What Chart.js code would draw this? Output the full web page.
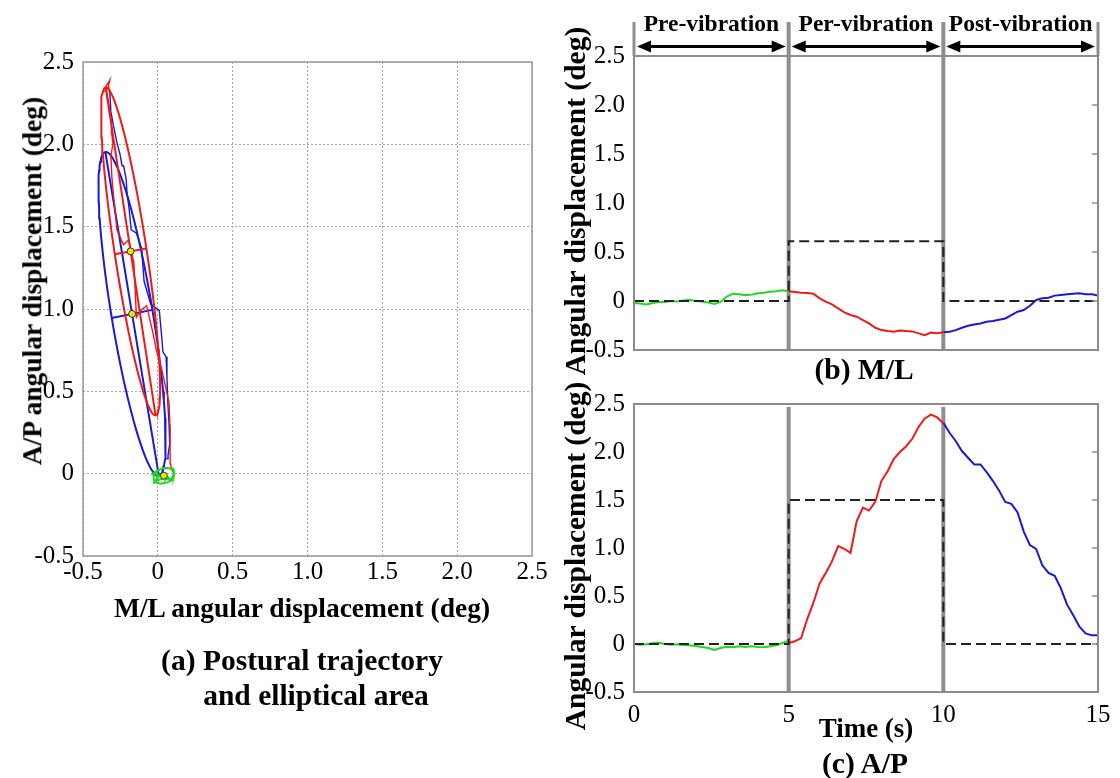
<!DOCTYPE html>
<html>
<head>
<meta charset="utf-8">
<title>Postural sway under vibration</title>
<script src="https://cdn.jsdelivr.net/npm/chart.js@4.4.1/dist/chart.umd.min.js"></script>
<style>
  html, body { margin: 0; padding: 0; background: #fff; }
  #fig { position: relative; width: 1120px; height: 778px; overflow: hidden; background: #fff; }
  canvas { position: absolute; }
  #cA { left: 0; top: 0; width: 560px; height: 778px; }
  #cB { left: 560px; top: 0; width: 560px; height: 380px; }
  #cC { left: 560px; top: 380px; width: 560px; height: 398px; }
  .lbl {
    position: absolute; white-space: nowrap; line-height: 1; color: #000;
    font-family: 'Liberation Serif', 'Times New Roman', serif; font-weight: bold;
    transform: translate(-50%, -50%);
  }
  .rot { transform: translate(-50%, -50%) rotate(-90deg); }
</style>
</head>
<body>
<div id="fig">
  <canvas id="cA" width="560" height="778"></canvas>
  <canvas id="cB" width="560" height="380"></canvas>
  <canvas id="cC" width="560" height="398"></canvas>

  <div class="lbl" style="left:302px; top:608px; font-size:27.5px;">M/L angular displacement (deg)</div>
  <div class="lbl rot" style="left:32px; top:281px; font-size:27.5px;">A/P angular displacement (deg)</div>
  <div class="lbl" style="left:302px; top:661px; font-size:29.5px;">(a) Postural trajectory</div>
  <div class="lbl" style="left:316px; top:696px; font-size:29.5px;">and elliptical area</div>

  <div class="lbl rot" style="left:576px; top:201px; font-size:29.5px;">Angular displacement (deg)</div>
  <div class="lbl" style="left:864px; top:370px; font-size:29.5px;">(b) M/L</div>

  <div class="lbl rot" style="left:576px; top:556px; font-size:29.5px;">Angular displacement (deg)</div>
  <div class="lbl" style="left:866px; top:728px; font-size:27px;">Time (s)</div>
  <div class="lbl" style="left:865px; top:764px; font-size:29.5px;">(c) A/P</div>
</div>

<script>
// ---- sample times (s) of each phase ----
const timePre  = [0.0, 0.2, 0.4, 0.6, 0.8, 1.0, 1.2, 1.4, 1.6, 1.8, 2.0, 2.2, 2.4, 2.6, 2.8, 3.0, 3.2, 3.4, 3.6, 3.8, 4.0, 4.2, 4.4, 4.6, 4.8, 5.0];
const timePer  = [5.0, 5.2, 5.4, 5.6, 5.8, 6.0, 6.2, 6.4, 6.6, 6.8, 7.0, 7.2, 7.4, 7.6, 7.8, 8.0, 8.2, 8.4, 8.6, 8.8, 9.0, 9.2, 9.4, 9.6, 9.8, 10.0];
const timePost = [10.0, 10.2, 10.4, 10.6, 10.8, 11.0, 11.2, 11.4, 11.6, 11.8, 12.0, 12.2, 12.4, 12.6, 12.8, 13.0, 13.2, 13.4, 13.6, 13.8, 14.0, 14.2, 14.4, 14.6, 14.8, 15.0];

// ---- medio-lateral angular displacement (deg) ----
const mlPre  = [-0.02, -0.025, -0.035, -0.02, -0.01, -0.01, 0.0, -0.005, 0.005, 0.01, 0.0, -0.005, -0.015, -0.03, -0.01, 0.045, 0.075, 0.07, 0.06, 0.065, 0.08, 0.085, 0.095, 0.1, 0.11, 0.1];
const mlPer  = [0.1, 0.092, 0.085, 0.082, 0.075, 0.027, -0.007, -0.034, -0.075, -0.116, -0.143, -0.16, -0.195, -0.229, -0.273, -0.297, -0.307, -0.314, -0.3, -0.307, -0.31, -0.33, -0.348, -0.321, -0.33, -0.32];
const mlPost = [-0.32, -0.314, -0.297, -0.273, -0.253, -0.239, -0.229, -0.212, -0.205, -0.191, -0.178, -0.143, -0.109, -0.092, -0.048, 0.01, 0.027, 0.034, 0.055, 0.061, 0.068, 0.075, 0.079, 0.068, 0.068, 0.055];

// ---- antero-posterior angular displacement (deg) ----
const apPre  = [0.0, -0.007, -0.003, 0.007, 0.014, 0.0, -0.007, -0.003, -0.01, -0.014, -0.021, -0.031, -0.041, -0.062, -0.041, -0.028, -0.034, -0.024, -0.031, -0.024, -0.031, -0.034, -0.024, -0.014, 0.01, 0.035];
const apPer  = [0.01, 0.028, 0.06, 0.26, 0.43, 0.63, 0.74, 0.86, 1.02, 0.99, 0.95, 1.28, 1.42, 1.39, 1.48, 1.70, 1.80, 1.93, 2.0, 2.06, 2.14, 2.26, 2.35, 2.39, 2.36, 2.3];
const apPost = [2.305, 2.2, 2.115, 2.01, 1.94, 1.87, 1.87, 1.79, 1.7, 1.6, 1.48, 1.46, 1.37, 1.17, 1.03, 0.99, 0.82, 0.74, 0.71, 0.58, 0.41, 0.3, 0.18, 0.11, 0.09, 0.09];

// ---- phases and their reference levels (deg) ----
const phaseBounds = [0, 5, 10, 15];
const phaseLabels = ['Pre-vibration', 'Per-vibration', 'Post-vibration'];
const mlRefLevels = [0, 0.61, 0];
const apRefLevels = [0, 1.5, 0];

// ---- 95% sway ellipses (pre, per, post) ----
const ellipseCentreML = [0.04, -0.182, -0.172];
const ellipseCentreAP = [-0.012, 1.35, 0.97];
const ellipseSemiMajor = [0.07, 1.01, 1.0];
const ellipseSemiMinor = [0.045, 0.107, 0.138];
const ellipseTiltDeg   = [15, 99.5, 100.3];

// ---- tick labels ----
const angleTickLabels = ['-0.5', '0', '0.5', '1.0', '1.5', '2.0', '2.5'];
const timeTickLabels  = ['0', '5', '10', '15'];

// ---- styling ----
const SERIF = "'Liberation Serif', 'Times New Roman', serif";
const TICK_FONT = { family: SERIF, size: 25 };
const phaseColors = ['#1fd81f', '#ee1a1a', '#1a1ad6'];
const frameGrey = '#8c8c8c';
Chart.defaults.font.family = SERIF;
Chart.defaults.color = '#000';

const zip = (xs, ys) => xs.map((x, i) => ({ x: x, y: ys[i] }));

function stepLine(levels) {
  const pts = [];
  levels.forEach((v, i) => {
    pts.push({ x: phaseBounds[i], y: v });
    pts.push({ x: phaseBounds[i + 1], y: v });
  });
  return pts;
}

function ellipseGeometry(i) {
  const cx = ellipseCentreML[i], cy = ellipseCentreAP[i];
  const a = ellipseSemiMajor[i], b = ellipseSemiMinor[i];
  const th = ellipseTiltDeg[i] * Math.PI / 180;
  const ux = Math.cos(th), uy = Math.sin(th);   // major direction
  const vx = uy, vy = -ux;                       // minor direction
  const outline = [];
  for (let k = 0; k <= 96; k++) {
    const p = 2 * Math.PI * k / 96;
    outline.push({ x: cx + a * Math.cos(p) * ux + b * Math.sin(p) * vx,
                   y: cy + a * Math.cos(p) * uy + b * Math.sin(p) * vy });
  }
  return {
    outline: outline,
    major: [{ x: cx - a * ux, y: cy - a * uy }, { x: cx + a * ux, y: cy + a * uy }],
    minor: [{ x: cx - b * vx, y: cy - b * vy }, { x: cx + b * vx, y: cy + b * vy }],
    centre: { x: cx, y: cy }
  };
}

// box around the plotting area
const framePlugin = {
  id: 'frame',
  afterDraw(chart, args, o) {
    const { ctx, chartArea: a } = chart;
    ctx.save();
    ctx.strokeStyle = o.color || frameGrey;
    ctx.lineWidth = o.width || 1.5;
    ctx.strokeRect(a.left, a.top, a.right - a.left, a.bottom - a.top);
    if (o.rightTicks) {
      ctx.lineWidth = 1.5;
      chart.scales.y.ticks.forEach(t => {
        const py = chart.scales.y.getPixelForValue(t.value);
        ctx.beginPath();
        ctx.moveTo(a.right, py);
        ctx.lineTo(a.right - 6, py);
        ctx.stroke();
      });
    }
    ctx.restore();
  }
};

// phase separators, and the phase header with double arrows
const phasePlugin = {
  id: 'phases',
  beforeDatasetsDraw(chart, args, o) {
    const { ctx, chartArea: a, scales: { x } } = chart;
    ctx.save();
    ctx.strokeStyle = '#8e8e8e';
    phaseBounds.forEach((t, i) => {
      const px = x.getPixelForValue(t);
      const inner = i > 0 && i < phaseBounds.length - 1;
      if (!inner && !o.header) return;
      ctx.lineWidth = inner ? 4 : 3;
      ctx.beginPath();
      ctx.moveTo(px, o.header ? o.headerTop : a.top + 3);
      ctx.lineTo(px, inner ? a.bottom : a.top);
      ctx.stroke();
    });
    ctx.restore();
  },
  afterDraw(chart, args, o) {
    if (!o.header) return;
    const { ctx, scales: { x } } = chart;
    ctx.save();
    ctx.fillStyle = '#000';
    ctx.strokeStyle = '#000';
    ctx.font = 'bold 23.5px ' + SERIF;
    ctx.textAlign = 'center';
    ctx.textBaseline = 'alphabetic';
    for (let i = 0; i < phaseLabels.length; i++) {
      const x0 = x.getPixelForValue(phaseBounds[i]) + 3;
      const x1 = x.getPixelForValue(phaseBounds[i + 1]) - 3;
      ctx.fillText(phaseLabels[i], (x0 + x1) / 2, o.textBaseline);
      const y = o.arrowY, hl = 14, hh = 6;
      ctx.lineWidth = 3;
      ctx.beginPath();
      ctx.moveTo(x0 + hl - 2, y);
      ctx.lineTo(x1 - hl + 2, y);
      ctx.stroke();
      ctx.beginPath();
      ctx.moveTo(x0, y); ctx.lineTo(x0 + hl, y - hh); ctx.lineTo(x0 + hl, y + hh); ctx.closePath();
      ctx.fill();
      ctx.beginPath();
      ctx.moveTo(x1, y); ctx.lineTo(x1 - hl, y - hh); ctx.lineTo(x1 - hl, y + hh); ctx.closePath();
      ctx.fill();
    }
    ctx.restore();
  }
};

const lineSet = (data, color, width, dash) => ({
  data: data, showLine: true, borderColor: color, borderWidth: width,
  borderDash: dash || [], pointRadius: 0, fill: false, tension: 0
});

const common = {
  responsive: false, animation: false, devicePixelRatio: 1,
  plugins: { legend: { display: false }, tooltip: { enabled: false } }
};

const angleAxis = (extra) => Object.assign({
  type: 'linear', min: -0.5, max: 2.5,
  ticks: { stepSize: 0.5, autoSkip: false, padding: 9, font: TICK_FONT,
           callback: (v, i) => angleTickLabels[i] },
  grid: { display: false, drawTicks: false },
  border: { display: false }
}, extra);

// ---------------- (a) postural trajectory and sway ellipses ----------------
const ell = [0, 1, 2].map(ellipseGeometry);
const dsA = [
  { data: ell.map(e => e.centre), showLine: false, pointRadius: 3.5,
    pointBackgroundColor: '#e6e600', pointBorderColor: '#333', pointBorderWidth: 1 },
  lineSet(ell[0].outline, phaseColors[0], 2),
  lineSet(zip(mlPre, apPre), phaseColors[0], 2),
  lineSet(ell[1].major, phaseColors[1], 2),
  lineSet(ell[1].minor, phaseColors[1], 2),
  lineSet(ell[1].outline, phaseColors[1], 2),
  lineSet(zip(mlPer, apPer), phaseColors[1], 1.4),
  lineSet(ell[2].major, phaseColors[2], 2),
  lineSet(ell[2].minor, phaseColors[2], 2),
  lineSet(ell[2].outline, phaseColors[2], 2),
  lineSet(zip(mlPost, apPost), phaseColors[2], 1.4)
];

new Chart(document.getElementById('cA'), {
  type: 'scatter',
  data: { datasets: dsA },
  options: Object.assign({}, common, {
    layout: { padding: { left: 0, top: 62, right: 28, bottom: 0 } },
    plugins: Object.assign({}, common.plugins, { frame: { color: '#999', width: 1.5 } }),
    scales: {
      x: angleAxis({
        ticks: { stepSize: 0.5, autoSkip: false, maxRotation: 0, padding: 1,
                 font: TICK_FONT, callback: (v, i) => angleTickLabels[i] },
        grid: { display: true, color: '#a6a6a6', lineWidth: 1, drawTicks: false },
        border: { display: false, dash: [2, 2] },
        afterFit(s) { s.height = 222; }
      }),
      y: angleAxis({
        grid: { display: true, color: '#a6a6a6', lineWidth: 1, drawTicks: false },
        border: { display: false, dash: [2, 2] },
        afterFit(s) { s.width = 83; }
      })
    }
  }),
  plugins: [framePlugin]
});

// ---------------- (b) M/L time course ----------------
new Chart(document.getElementById('cB'), {
  type: 'scatter',
  data: { datasets: [
    lineSet(stepLine(mlRefLevels), '#222', 2, [10, 5]),
    lineSet(zip(timePre, mlPre), phaseColors[0], 2),
    lineSet(zip(timePer, mlPer), phaseColors[1], 2),
    lineSet(zip(timePost, mlPost), phaseColors[2], 2)
  ] },
  options: Object.assign({}, common, {
    layout: { padding: { left: 0, top: 56, right: 22, bottom: 30 } },
    plugins: Object.assign({}, common.plugins, {
      frame: { color: frameGrey, width: 2, rightTicks: true },
      phases: { header: true, headerTop: 22, arrowY: 46.5, textBaseline: 31 }
    }),
    scales: {
      x: { type: 'linear', min: 0, max: 15, display: false },
      y: angleAxis({ afterFit(s) { s.width = 74; } })
    }
  }),
  plugins: [phasePlugin, framePlugin]
});

// ---------------- (c) A/P time course ----------------
new Chart(document.getElementById('cC'), {
  type: 'scatter',
  data: { datasets: [
    lineSet(stepLine(apRefLevels), '#222', 2, [10, 5]),
    lineSet(zip(timePre, apPre), phaseColors[0], 2),
    lineSet(zip(timePer, apPer), phaseColors[1], 2),
    lineSet(zip(timePost, apPost), phaseColors[2], 2)
  ] },
  options: Object.assign({}, common, {
    layout: { padding: { left: 0, top: 22, right: 22, bottom: 0 } },
    plugins: Object.assign({}, common.plugins, {
      frame: { color: frameGrey, width: 2, rightTicks: true },
      phases: { header: false }
    }),
    scales: {
      x: {
        type: 'linear', min: 0, max: 15,
        ticks: { stepSize: 5, autoSkip: false, maxRotation: 0, padding: 8,
                 font: TICK_FONT, callback: (v, i) => timeTickLabels[i] },
        grid: { display: false, drawTicks: false }, border: { display: false },
        afterFit(s) { s.height = 86; }
      },
      y: angleAxis({ afterFit(s) { s.width = 74; } })
    }
  }),
  plugins: [phasePlugin, framePlugin]
});
</script>
</body>
</html>
